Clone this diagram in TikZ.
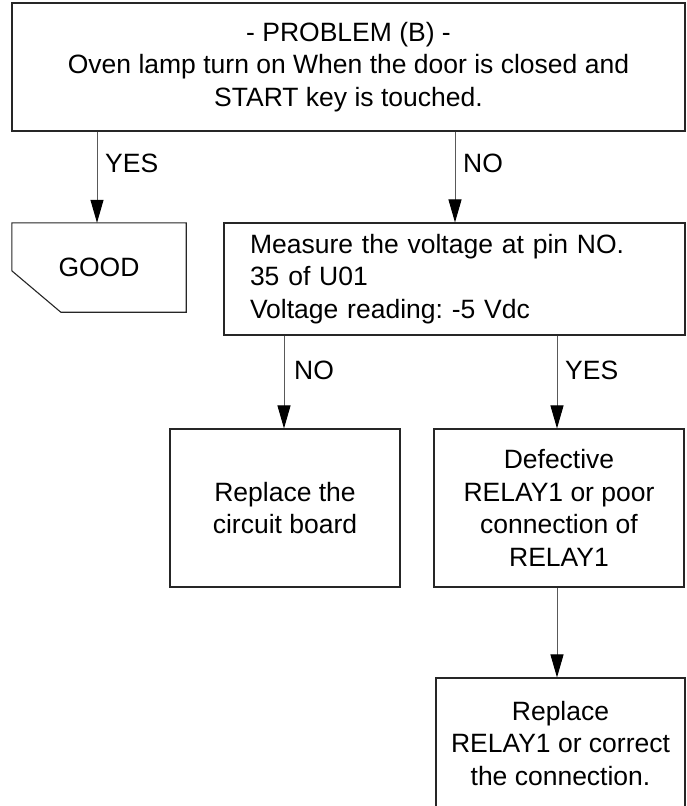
\documentclass[tikz,border=0pt]{standalone}
\usepackage{fontspec}
\setmainfont{Liberation Sans}
\usetikzlibrary{arrows.meta,calc}
\newcommand\diafont{\fontsize{26.5}{32.5}\selectfont\frenchspacing}
\begin{document}
\begin{tikzpicture}[x=1pt,y=1pt,
  box/.style={draw=black!85, line width=1.1pt, inner sep=0pt, align=center, font=\diafont},
  plain/.style={inner sep=0pt, align=center, font=\diafont},
  lbl/.style={inner sep=0pt, anchor=west, font=\diafont},
  arr/.style={draw=black!65, line width=1pt, -{Triangle[length=23pt,width=13pt,color=black]}}]
\useasboundingbox (0,0) rectangle (687,-806);
\clip (0,0) rectangle (687,-806);
\fill[white] (0,0) rectangle (687,-806);

% nodes
\node[box, minimum width=673pt, minimum height=128pt] (top) at (348.5,-67)
  {- PROBLEM (B) -\\Oven lamp turn on When the door is closed and\\START key is touched.};
\node[plain, minimum width=174pt, minimum height=89pt] (good) at (99,-267.5) {GOOD};
\draw[draw=black!85, line width=1.1pt]
  (good.north west) -- (good.north east) -- (good.south east)
  -- ($(good.south west)+(49,0)$) -- ($(good.north west)+(0,-48)$) -- cycle;
\node[box, align=left, text width=409pt, inner xsep=26pt, minimum height=112pt] (meas) at (454.5,-279)
  {Measure the voltage at pin NO.\\35 of U01\\Voltage reading: -5 Vdc};
\node[box, minimum width=230pt, minimum height=158pt] (rep) at (285,-508)
  {Replace the\\circuit board};
\node[box, minimum width=250pt, minimum height=158pt] (def) at (559,-508)
  {Defective\\RELAY1 or poor\\connection of\\RELAY1};
\node[box, minimum width=249pt, minimum height=131pt] (last) at (560.5,-743.5)
  {Replace\\RELAY1 or correct\\the connection.};

% connector x positions
\coordinate (xa) at (97,0);
\coordinate (xb) at (455,0);
\coordinate (xc) at (284,0);
\coordinate (xd) at (557,0);

\draw[arr] (xa |- top.south) -- (xa |- good.north);
\draw[arr] (xb |- top.south) -- (xb |- meas.north);
\draw[arr] (xc |- meas.south) -- (xc |- rep.north);
\draw[arr] (xd |- meas.south) -- (xd |- def.north);
\draw[arr] (xd |- def.south) -- (xd |- last.north);

% labels
\node[lbl] (l1) at (105,-163) {YES};
\node[lbl] (l2) at (463,-163) {NO};
\node[lbl] (l3) at (294,-370) {NO};
\node[lbl] (l4) at (565,-370) {YES};
\end{tikzpicture}
\end{document}
